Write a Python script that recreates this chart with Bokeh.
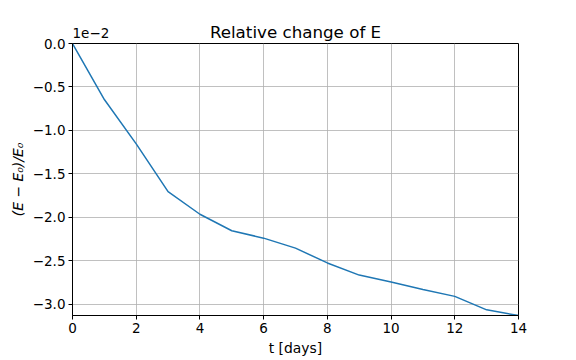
from bokeh.plotting import figure
from bokeh.models import Range1d, FixedTicker, Label
from bokeh.embed import file_html
from bokeh.resources import INLINE

# data: relative change of E, in units of 1e-2
t_days = [0, 1, 2, 3, 4, 5, 6, 7, 8, 9, 10, 11, 12, 13, 14]
rel_change_e2 = [0.0, -0.645, -1.155, -1.705, -1.965, -2.155, -2.24, -2.355,
                 -2.525, -2.665, -2.745, -2.83, -2.91, -3.065, -3.13]

x_ticks = [0, 2, 4, 6, 8, 10, 12, 14]
y_ticks = [0.0, -0.5, -1.0, -1.5, -2.0, -2.5, -3.0]
y_tick_labels = ["0.0", "\u22120.5", "\u22121.0", "\u22121.5", "\u22122.0", "\u22122.5", "\u22123.0"]
offset_text = "1e\u22122"
title_text = "Relative change of E"

FONT = "DejaVu Sans"
FRAME_W, FRAME_H = 446, 272

p = figure(
    frame_width=FRAME_W, frame_height=FRAME_H,
    output_backend="svg", toolbar_location=None,
    x_range=Range1d(min(t_days), max(t_days)),
    y_range=Range1d(min(rel_change_e2), 0.0),
    title=None,
    min_border_left=72, min_border_right=40, min_border_top=43, min_border_bottom=37,
)
p.background_fill_color = "white"
p.border_fill_color = "white"
p.outline_line_color = "black"
p.outline_line_width = 1

p.line(t_days, rel_change_e2, line_color="#1f77b4", line_width=1.5)

p.xaxis.ticker = FixedTicker(ticks=x_ticks)
p.yaxis.ticker = FixedTicker(ticks=y_ticks)
p.yaxis.major_label_overrides = {v: s for v, s in zip(y_ticks, y_tick_labels)}
p.xaxis.major_label_overrides = {v: str(v) for v in x_ticks}

for ax in (p.xaxis[0], p.yaxis[0]):
    ax.axis_line_color = "black"
    ax.major_tick_line_color = "black"
    ax.major_tick_out = 4
    ax.major_tick_in = 0
    ax.minor_tick_line_color = None
    ax.major_label_text_font = FONT
    ax.major_label_text_font_size = "13.5px"
    ax.major_label_text_color = "black"
    ax.axis_label_text_font = FONT
    ax.axis_label_text_font_size = "13.9px"
    ax.axis_label_text_color = "black"
    ax.axis_label_text_font_style = "normal"
    ax.major_label_standoff = 3
    ax.axis_label_standoff = 4

p.xaxis.axis_label = "t [days]"
p.yaxis.axis_label = "(E \u2212 E\u2080)/E\u2080"
p.yaxis.axis_label_text_font_style = "italic"
p.yaxis.major_label_orientation = "horizontal"

p.grid.grid_line_color = "#b0b0b0"
p.grid.grid_line_width = 0.8
p.xgrid.ticker = FixedTicker(ticks=x_ticks)
p.ygrid.ticker = FixedTicker(ticks=y_ticks)

# offset text just above the frame (first panel above the frame)
p.add_layout(Label(x=0, y=6, x_units="screen", y_units="screen", text=offset_text,
                   text_font=FONT, text_font_size="13.5px", text_color="black",
                   text_baseline="bottom", text_align="left"), "above")
# title (second panel above), shifted down next to the offset text
p.add_layout(Label(x=FRAME_W / 2, y=-8, x_units="screen", y_units="screen", text=title_text,
                   text_font=FONT, text_font_size="16.7px", text_color="black",
                   text_baseline="bottom", text_align="center"), "above")

open("out.html", "w").write(file_html(p, INLINE))
